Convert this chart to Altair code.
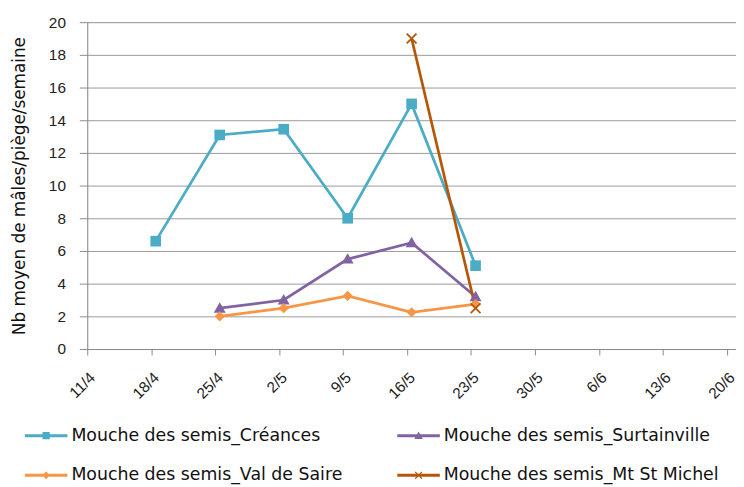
import datetime as dt
import altair as alt
import pandas as pd

# ---- data ----
tick_labels = ["11/4", "18/4", "25/4", "2/5", "9/5", "16/5", "23/5", "30/5", "6/6", "13/6", "20/6"]
dates = ["18/4", "25/4", "2/5", "9/5", "16/5", "23/5"]

series_names = [
    "Mouche des semis_Créances",
    "Mouche des semis_Surtainville",
    "Mouche des semis_Val de Saire",
    "Mouche des semis_Mt St Michel",
]
creances = [6.6, 13.1, 13.45, 8.0, 15.0, 5.1]
surtainville = [None, 2.5, 3.0, 5.5, 6.5, 3.2]
val_de_saire = [None, 2.0, 2.5, 3.25, 2.25, 2.75]
mt_st_michel = [None, None, None, None, 19.0, 2.5]

colors = ["#4BACC6", "#8064A2", "#F79646", "#B65708"]

# chart markers (unit box, drawn at size 1849 -> 1 unit = 21.5 px)
markers = [
    "M-0.25,-0.25H0.25V0.25H-0.25Z",
    "M0,-0.28L0.28,0.21L-0.28,0.21Z",
    "M0,-0.24L0.24,0L0,0.24L-0.24,0Z",
    "M-0.2,-0.26L0.26,0.2L0.2,0.26L-0.26,-0.2ZM0.26,-0.2L-0.2,0.26L-0.26,0.2L0.2,-0.26Z",
]
# legend keys: a short thick line with a smaller marker on it
legend_keys = [
    "M-1,-0.07H1V0.07H-1ZM-0.17,-0.17H0.17V0.17H-0.17Z",
    "M-1,-0.07H1V0.07H-1ZM0,-0.2L0.2,0.15L-0.2,0.15Z",
    "M-1,-0.07H1V0.07H-1ZM0,-0.18L0.18,0L0,0.18L-0.18,0Z",
    "M-1,-0.07H1V0.07H-1ZM-0.14,-0.18L0.18,0.14L0.14,0.18L-0.18,-0.14ZM0.18,-0.14L-0.14,0.18L-0.18,0.14L0.14,-0.18Z",
]

# ---- build table ----
start = dt.date(2016, 4, 11)


def day_of(label):
    d, m = label.split("/")
    return (dt.date(2016, int(m), int(d)) - start).days


rows = []
for name, vals in zip(series_names, [creances, surtainville, val_de_saire, mt_st_michel]):
    for lab, v in zip(dates, vals):
        if v is not None:
            # Excel date axis: each date sits in the middle of its one-day slot
            rows.append({"serie": name, "jour": day_of(lab) + 0.5, "valeur": v})
df = pd.DataFrame(rows)

label_expr = "[" + ",".join("'" + t + "'" for t in tick_labels) + "][round(datum.value / 7)]"

x_enc = alt.X(
    "jour:Q",
    scale=alt.Scale(domain=[0, 71], nice=False, zero=False),
    axis=alt.Axis(
        values=[i * 7 for i in range(len(tick_labels))],
        labelExpr=label_expr,
        labelAngle=-45,
        labelFont="Liberation Sans",
        labelFontSize=15.5,
        labelColor="#222222",
        labelPadding=15,
        labelOffset=0,
        labelBound=False,
        tickSize=6,
        tickColor="#8c8c8c",
        domainColor="#8c8c8c",
        grid=False,
        title=None,
    ),
)
y_enc = alt.Y(
    "valeur:Q",
    scale=alt.Scale(domain=[0, 20], nice=False),
    axis=alt.Axis(
        values=list(range(0, 21, 2)),
        labelFont="Liberation Sans",
        labelFontSize=15.5,
        labelColor="#222222",
        labelPadding=14,
        tickSize=8,
        tickColor="#8c8c8c",
        domainColor="#8c8c8c",
        gridColor="#9a9a9a",
        title="Nb moyen de mâles/piège/semaine",
        titleFont="DejaVu Sans",
        titleFontSize=17,
        titleFontWeight="normal",
        titleColor="#111111",
        titlePadding=20,
    ),
)

legend = alt.Legend(
    title=None,
    orient="none",
    direction="horizontal",
    legendX=-63,
    legendY=396,
    columns=2,
    columnPadding=55,
    rowPadding=10,
    symbolSize=1849,
    symbolStrokeWidth=0,
    symbolOpacity=1,
    labelFont="DejaVu Sans",
    labelFontSize=17.5,
    labelColor="#111111",
    labelOffset=4,
    labelLimit=400,
)

scale_c = alt.Scale(domain=series_names, range=colors)
color_enc = alt.Color("serie:N", scale=scale_c, legend=legend)

lines = alt.Chart(df).mark_line(strokeWidth=2.75).encode(
    x=x_enc,
    y=y_enc,
    color=color_enc,
    order=alt.Order("jour:Q"),
)

# invisible layer that only provides the legend keys (line + marker)
legend_layer = alt.Chart(df).mark_point(filled=True, size=1849, opacity=0).encode(
    x=x_enc,
    y=y_enc,
    color=color_enc,
    shape=alt.Shape("serie:N", scale=alt.Scale(domain=series_names, range=legend_keys), legend=legend),
)

point_layers = [
    alt.Chart(df)
    .transform_filter(alt.datum.serie == name)
    .mark_point(filled=True, size=1849, opacity=1, strokeWidth=0, shape=mk)
    .encode(x=x_enc, y=y_enc, color=color_enc)
    for name, mk in zip(series_names, markers)
]

chart = (
    alt.layer(lines, legend_layer, *point_layers)
    .properties(
        width=655,
        height=330,
        autosize=alt.AutoSizeParams(type="none"),
        padding={"left": 80, "top": 12, "right": 0, "bottom": 137},
    )
    .configure_view(stroke=None)
    .configure(background="white")
)

chart.save("out.html", embed_options={"renderer": "svg", "actions": False})
